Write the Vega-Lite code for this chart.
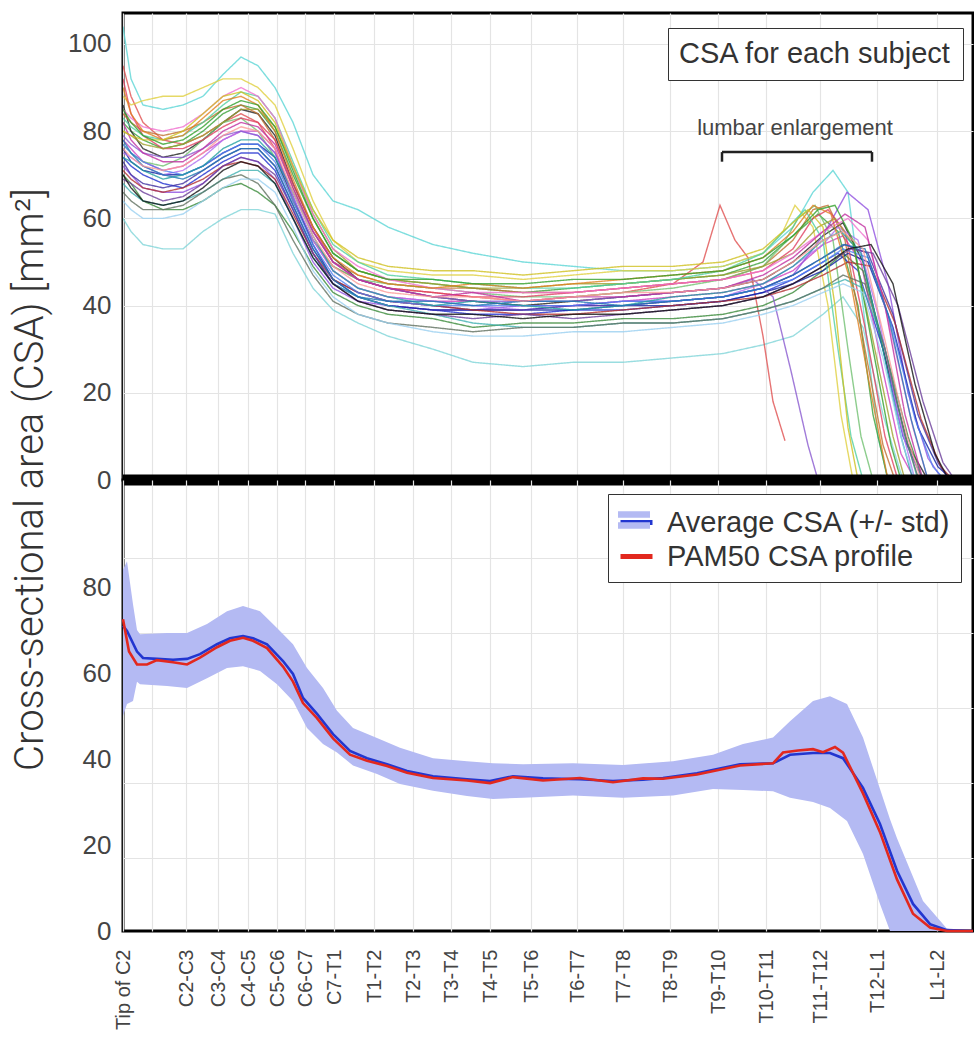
{
"$schema": "https://vega.github.io/schema/vega-lite/v6.json",
"autosize": {"type": "pad"},
"padding": {"left": 8, "top": 11, "right": 1, "bottom": 0},
"background": "white",
"bounds": "flush",
"config": {"font": "Liberation Sans", "view": {"stroke": "black", "strokeWidth": 3}},
"spacing": 0,
"datasets": {
"subjects": [
{"s":1,"x":0,"y":104},{"s":1,"x":8,"y":92},{"s":1,"x":20,"y":86},{"s":1,"x":40,"y":85},{"s":1,"x":60,"y":86},{"s":1,"x":80,"y":88},{"s":1,"x":100,"y":93},{"s":1,"x":118,"y":97},{"s":1,"x":135,"y":95},{"s":1,"x":152,"y":90},{"s":1,"x":170,"y":82},{"s":1,"x":190,"y":70},{"s":1,"x":210,"y":64},{"s":1,"x":235,"y":62},{"s":1,"x":265,"y":58},{"s":1,"x":310,"y":54},{"s":1,"x":350,"y":52},{"s":1,"x":400,"y":50},{"s":1,"x":450,"y":49},{"s":1,"x":500,"y":48},{"s":1,"x":550,"y":48},{"s":1,"x":600,"y":49},{"s":1,"x":640,"y":52},{"s":1,"x":670,"y":58},{"s":1,"x":690,"y":66},{"s":1,"x":710,"y":71},{"s":1,"x":725,"y":66},{"s":1,"x":740,"y":40},{"s":1,"x":755,"y":10},{"s":1,"x":765,"y":0},
{"s":2,"x":0,"y":60},{"s":2,"x":8,"y":57},{"s":2,"x":20,"y":54},{"s":2,"x":40,"y":53},{"s":2,"x":60,"y":53},{"s":2,"x":80,"y":57},{"s":2,"x":100,"y":60},{"s":2,"x":118,"y":62},{"s":2,"x":135,"y":62},{"s":2,"x":152,"y":61},{"s":2,"x":170,"y":52},{"s":2,"x":190,"y":44},{"s":2,"x":210,"y":39},{"s":2,"x":235,"y":36},{"s":2,"x":265,"y":33},{"s":2,"x":310,"y":30},{"s":2,"x":350,"y":27},{"s":2,"x":400,"y":26},{"s":2,"x":450,"y":27},{"s":2,"x":500,"y":27},{"s":2,"x":550,"y":28},{"s":2,"x":600,"y":29},{"s":2,"x":640,"y":31},{"s":2,"x":670,"y":33},{"s":2,"x":700,"y":38},{"s":2,"x":720,"y":42},{"s":2,"x":740,"y":35},{"s":2,"x":760,"y":15},{"s":2,"x":780,"y":0},
{"s":3,"x":0,"y":95},{"s":3,"x":8,"y":88},{"s":3,"x":20,"y":82},{"s":3,"x":40,"y":78},{"s":3,"x":60,"y":77},{"s":3,"x":80,"y":79},{"s":3,"x":100,"y":82},{"s":3,"x":118,"y":84},{"s":3,"x":135,"y":82},{"s":3,"x":152,"y":76},{"s":3,"x":170,"y":64},{"s":3,"x":190,"y":55},{"s":3,"x":210,"y":49},{"s":3,"x":235,"y":46},{"s":3,"x":265,"y":44},{"s":3,"x":310,"y":43},{"s":3,"x":350,"y":42},{"s":3,"x":400,"y":41},{"s":3,"x":450,"y":42},{"s":3,"x":500,"y":43},{"s":3,"x":550,"y":45},{"s":3,"x":580,"y":50},{"s":3,"x":597,"y":63},{"s":3,"x":612,"y":55},{"s":3,"x":625,"y":51},{"s":3,"x":640,"y":33},{"s":3,"x":650,"y":18},{"s":3,"x":662,"y":9},
{"s":4,"x":0,"y":82},{"s":4,"x":8,"y":80},{"s":4,"x":20,"y":78},{"s":4,"x":40,"y":76},{"s":4,"x":60,"y":77},{"s":4,"x":80,"y":80},{"s":4,"x":100,"y":84},{"s":4,"x":118,"y":86},{"s":4,"x":135,"y":85},{"s":4,"x":152,"y":80},{"s":4,"x":170,"y":70},{"s":4,"x":190,"y":60},{"s":4,"x":210,"y":52},{"s":4,"x":235,"y":48},{"s":4,"x":265,"y":46},{"s":4,"x":310,"y":45},{"s":4,"x":350,"y":44},{"s":4,"x":400,"y":43},{"s":4,"x":450,"y":44},{"s":4,"x":500,"y":45},{"s":4,"x":550,"y":46},{"s":4,"x":600,"y":47},{"s":4,"x":640,"y":50},{"s":4,"x":670,"y":56},{"s":4,"x":695,"y":61},{"s":4,"x":715,"y":57},{"s":4,"x":735,"y":40},{"s":4,"x":750,"y":15},{"s":4,"x":765,"y":0},
{"s":5,"x":0,"y":74},{"s":5,"x":8,"y":72},{"s":5,"x":20,"y":70},{"s":5,"x":40,"y":68},{"s":5,"x":60,"y":67},{"s":5,"x":80,"y":70},{"s":5,"x":100,"y":73},{"s":5,"x":118,"y":75},{"s":5,"x":135,"y":75},{"s":5,"x":152,"y":71},{"s":5,"x":170,"y":62},{"s":5,"x":190,"y":52},{"s":5,"x":210,"y":45},{"s":5,"x":235,"y":42},{"s":5,"x":265,"y":40},{"s":5,"x":310,"y":39},{"s":5,"x":350,"y":38},{"s":5,"x":400,"y":38},{"s":5,"x":450,"y":39},{"s":5,"x":500,"y":39},{"s":5,"x":550,"y":40},{"s":5,"x":600,"y":41},{"s":5,"x":640,"y":43},{"s":5,"x":670,"y":46},{"s":5,"x":700,"y":50},{"s":5,"x":715,"y":52},{"s":5,"x":735,"y":48},{"s":5,"x":760,"y":30},{"s":5,"x":780,"y":10},{"s":5,"x":800,"y":0},
{"s":6,"x":0,"y":78},{"s":6,"x":8,"y":76},{"s":6,"x":20,"y":73},{"s":6,"x":40,"y":71},{"s":6,"x":60,"y":72},{"s":6,"x":80,"y":75},{"s":6,"x":100,"y":78},{"s":6,"x":118,"y":80},{"s":6,"x":135,"y":80},{"s":6,"x":152,"y":76},{"s":6,"x":170,"y":64},{"s":6,"x":190,"y":55},{"s":6,"x":210,"y":48},{"s":6,"x":235,"y":44},{"s":6,"x":265,"y":42},{"s":6,"x":310,"y":41},{"s":6,"x":350,"y":41},{"s":6,"x":400,"y":40},{"s":6,"x":450,"y":40},{"s":6,"x":500,"y":41},{"s":6,"x":550,"y":42},{"s":6,"x":600,"y":43},{"s":6,"x":640,"y":45},{"s":6,"x":670,"y":48},{"s":6,"x":700,"y":54},{"s":6,"x":720,"y":56},{"s":6,"x":738,"y":50},{"s":6,"x":760,"y":25},{"s":6,"x":778,"y":6},{"s":6,"x":792,"y":0},
{"s":7,"x":0,"y":88},{"s":7,"x":8,"y":86},{"s":7,"x":20,"y":87},{"s":7,"x":40,"y":88},{"s":7,"x":60,"y":88},{"s":7,"x":80,"y":90},{"s":7,"x":100,"y":92},{"s":7,"x":118,"y":92},{"s":7,"x":135,"y":90},{"s":7,"x":152,"y":86},{"s":7,"x":170,"y":76},{"s":7,"x":190,"y":64},{"s":7,"x":210,"y":55},{"s":7,"x":235,"y":50},{"s":7,"x":265,"y":48},{"s":7,"x":310,"y":47},{"s":7,"x":350,"y":47},{"s":7,"x":400,"y":46},{"s":7,"x":450,"y":47},{"s":7,"x":500,"y":48},{"s":7,"x":550,"y":48},{"s":7,"x":600,"y":49},{"s":7,"x":640,"y":52},{"s":7,"x":660,"y":57},{"s":7,"x":672,"y":63},{"s":7,"x":690,"y":58},{"s":7,"x":705,"y":40},{"s":7,"x":718,"y":15},{"s":7,"x":730,"y":0},
{"s":8,"x":0,"y":86},{"s":8,"x":8,"y":80},{"s":8,"x":20,"y":76},{"s":8,"x":40,"y":74},{"s":8,"x":60,"y":75},{"s":8,"x":80,"y":78},{"s":8,"x":100,"y":82},{"s":8,"x":118,"y":85},{"s":8,"x":135,"y":84},{"s":8,"x":152,"y":79},{"s":8,"x":170,"y":68},{"s":8,"x":190,"y":58},{"s":8,"x":210,"y":51},{"s":8,"x":235,"y":46},{"s":8,"x":265,"y":44},{"s":8,"x":310,"y":42},{"s":8,"x":350,"y":41},{"s":8,"x":400,"y":40},{"s":8,"x":450,"y":41},{"s":8,"x":500,"y":42},{"s":8,"x":550,"y":43},{"s":8,"x":600,"y":44},{"s":8,"x":640,"y":46},{"s":8,"x":670,"y":50},{"s":8,"x":700,"y":56},{"s":8,"x":720,"y":59},{"s":8,"x":740,"y":50},{"s":8,"x":760,"y":30},{"s":8,"x":785,"y":8},{"s":8,"x":805,"y":0},
{"s":9,"x":0,"y":72},{"s":9,"x":8,"y":70},{"s":9,"x":20,"y":67},{"s":9,"x":40,"y":66},{"s":9,"x":60,"y":66},{"s":9,"x":80,"y":68},{"s":9,"x":100,"y":72},{"s":9,"x":118,"y":74},{"s":9,"x":135,"y":73},{"s":9,"x":152,"y":69},{"s":9,"x":170,"y":60},{"s":9,"x":190,"y":50},{"s":9,"x":210,"y":44},{"s":9,"x":235,"y":41},{"s":9,"x":265,"y":40},{"s":9,"x":310,"y":39},{"s":9,"x":350,"y":39},{"s":9,"x":400,"y":40},{"s":9,"x":450,"y":40},{"s":9,"x":500,"y":41},{"s":9,"x":550,"y":41},{"s":9,"x":600,"y":42},{"s":9,"x":640,"y":44},{"s":9,"x":670,"y":47},{"s":9,"x":700,"y":56},{"s":9,"x":724,"y":66},{"s":9,"x":745,"y":62},{"s":9,"x":765,"y":45},{"s":9,"x":785,"y":20},{"s":9,"x":805,"y":5},{"s":9,"x":820,"y":0},
{"s":10,"x":0,"y":70},{"s":10,"x":8,"y":68},{"s":10,"x":20,"y":64},{"s":10,"x":40,"y":62},{"s":10,"x":60,"y":62},{"s":10,"x":80,"y":64},{"s":10,"x":100,"y":67},{"s":10,"x":118,"y":68},{"s":10,"x":135,"y":66},{"s":10,"x":152,"y":63},{"s":10,"x":170,"y":57},{"s":10,"x":190,"y":49},{"s":10,"x":210,"y":43},{"s":10,"x":235,"y":40},{"s":10,"x":265,"y":38},{"s":10,"x":310,"y":37},{"s":10,"x":350,"y":35},{"s":10,"x":400,"y":36},{"s":10,"x":450,"y":36},{"s":10,"x":500,"y":37},{"s":10,"x":550,"y":37},{"s":10,"x":600,"y":38},{"s":10,"x":640,"y":40},{"s":10,"x":670,"y":43},{"s":10,"x":700,"y":48},{"s":10,"x":720,"y":52},{"s":10,"x":740,"y":48},{"s":10,"x":762,"y":30},{"s":10,"x":785,"y":10},{"s":10,"x":800,"y":0},
{"s":11,"x":0,"y":84},{"s":11,"x":8,"y":82},{"s":11,"x":20,"y":80},{"s":11,"x":40,"y":79},{"s":11,"x":60,"y":80},{"s":11,"x":80,"y":82},{"s":11,"x":100,"y":85},{"s":11,"x":118,"y":86},{"s":11,"x":135,"y":84},{"s":11,"x":152,"y":78},{"s":11,"x":170,"y":67},{"s":11,"x":190,"y":57},{"s":11,"x":210,"y":50},{"s":11,"x":235,"y":47},{"s":11,"x":265,"y":45},{"s":11,"x":310,"y":44},{"s":11,"x":350,"y":44},{"s":11,"x":400,"y":43},{"s":11,"x":450,"y":43},{"s":11,"x":500,"y":44},{"s":11,"x":550,"y":45},{"s":11,"x":600,"y":46},{"s":11,"x":640,"y":49},{"s":11,"x":670,"y":55},{"s":11,"x":690,"y":62},{"s":11,"x":705,"y":63},{"s":11,"x":722,"y":55},{"s":11,"x":742,"y":30},{"s":11,"x":760,"y":8},{"s":11,"x":772,"y":0},
{"s":12,"x":0,"y":77},{"s":12,"x":8,"y":75},{"s":12,"x":20,"y":73},{"s":12,"x":40,"y":72},{"s":12,"x":60,"y":74},{"s":12,"x":80,"y":78},{"s":12,"x":100,"y":82},{"s":12,"x":118,"y":83},{"s":12,"x":135,"y":80},{"s":12,"x":152,"y":74},{"s":12,"x":170,"y":64},{"s":12,"x":190,"y":55},{"s":12,"x":210,"y":49},{"s":12,"x":235,"y":46},{"s":12,"x":265,"y":45},{"s":12,"x":310,"y":44},{"s":12,"x":350,"y":43},{"s":12,"x":400,"y":42},{"s":12,"x":450,"y":42},{"s":12,"x":500,"y":43},{"s":12,"x":550,"y":44},{"s":12,"x":600,"y":46},{"s":12,"x":640,"y":49},{"s":12,"x":660,"y":54},{"s":12,"x":675,"y":60},{"s":12,"x":692,"y":63},{"s":12,"x":710,"y":55},{"s":12,"x":725,"y":30},{"s":12,"x":738,"y":10},{"s":12,"x":750,"y":0},
{"s":13,"x":0,"y":76},{"s":13,"x":8,"y":73},{"s":13,"x":20,"y":71},{"s":13,"x":40,"y":70},{"s":13,"x":60,"y":70},{"s":13,"x":80,"y":72},{"s":13,"x":100,"y":75},{"s":13,"x":118,"y":77},{"s":13,"x":135,"y":77},{"s":13,"x":152,"y":74},{"s":13,"x":170,"y":65},{"s":13,"x":190,"y":54},{"s":13,"x":210,"y":46},{"s":13,"x":235,"y":42},{"s":13,"x":265,"y":40},{"s":13,"x":310,"y":39},{"s":13,"x":350,"y":39},{"s":13,"x":400,"y":39},{"s":13,"x":450,"y":39},{"s":13,"x":500,"y":40},{"s":13,"x":550,"y":40},{"s":13,"x":600,"y":41},{"s":13,"x":640,"y":43},{"s":13,"x":670,"y":45},{"s":13,"x":700,"y":48},{"s":13,"x":725,"y":52},{"s":13,"x":745,"y":50},{"s":13,"x":770,"y":35},{"s":13,"x":795,"y":12},{"s":13,"x":815,"y":3},{"s":13,"x":830,"y":0},
{"s":14,"x":0,"y":92},{"s":14,"x":8,"y":84},{"s":14,"x":20,"y":79},{"s":14,"x":40,"y":76},{"s":14,"x":60,"y":76},{"s":14,"x":80,"y":78},{"s":14,"x":100,"y":81},{"s":14,"x":118,"y":83},{"s":14,"x":135,"y":82},{"s":14,"x":152,"y":78},{"s":14,"x":170,"y":68},{"s":14,"x":190,"y":58},{"s":14,"x":210,"y":50},{"s":14,"x":235,"y":46},{"s":14,"x":265,"y":44},{"s":14,"x":310,"y":43},{"s":14,"x":350,"y":42},{"s":14,"x":400,"y":42},{"s":14,"x":450,"y":43},{"s":14,"x":500,"y":44},{"s":14,"x":550,"y":45},{"s":14,"x":600,"y":46},{"s":14,"x":640,"y":48},{"s":14,"x":670,"y":53},{"s":14,"x":690,"y":60},{"s":14,"x":705,"y":62},{"s":14,"x":722,"y":57},{"s":14,"x":742,"y":35},{"s":14,"x":762,"y":10},{"s":14,"x":775,"y":0},
{"s":15,"x":0,"y":68},{"s":15,"x":8,"y":66},{"s":15,"x":20,"y":64},{"s":15,"x":40,"y":63},{"s":15,"x":60,"y":64},{"s":15,"x":80,"y":66},{"s":15,"x":100,"y":69},{"s":15,"x":118,"y":71},{"s":15,"x":135,"y":71},{"s":15,"x":152,"y":68},{"s":15,"x":170,"y":60},{"s":15,"x":190,"y":51},{"s":15,"x":210,"y":45},{"s":15,"x":235,"y":42},{"s":15,"x":265,"y":40},{"s":15,"x":310,"y":38},{"s":15,"x":350,"y":36},{"s":15,"x":400,"y":35},{"s":15,"x":450,"y":35},{"s":15,"x":500,"y":36},{"s":15,"x":550,"y":36},{"s":15,"x":600,"y":37},{"s":15,"x":640,"y":39},{"s":15,"x":670,"y":41},{"s":15,"x":700,"y":44},{"s":15,"x":722,"y":46},{"s":15,"x":740,"y":44},{"s":15,"x":760,"y":32},{"s":15,"x":780,"y":12},{"s":15,"x":795,"y":0},
{"s":16,"x":0,"y":75},{"s":16,"x":8,"y":74},{"s":16,"x":20,"y":72},{"s":16,"x":40,"y":70},{"s":16,"x":60,"y":71},{"s":16,"x":80,"y":74},{"s":16,"x":100,"y":78},{"s":16,"x":118,"y":80},{"s":16,"x":135,"y":79},{"s":16,"x":152,"y":75},{"s":16,"x":170,"y":65},{"s":16,"x":190,"y":55},{"s":16,"x":210,"y":48},{"s":16,"x":235,"y":44},{"s":16,"x":265,"y":42},{"s":16,"x":310,"y":41},{"s":16,"x":350,"y":40},{"s":16,"x":400,"y":39},{"s":16,"x":450,"y":40},{"s":16,"x":500,"y":40},{"s":16,"x":550,"y":41},{"s":16,"x":600,"y":42},{"s":16,"x":640,"y":45},{"s":16,"x":670,"y":49},{"s":16,"x":700,"y":54},{"s":16,"x":715,"y":58},{"s":16,"x":735,"y":55},{"s":16,"x":755,"y":38},{"s":16,"x":775,"y":15},{"s":16,"x":792,"y":0},
{"s":17,"x":0,"y":80},{"s":17,"x":8,"y":79},{"s":17,"x":20,"y":77},{"s":17,"x":40,"y":76},{"s":17,"x":60,"y":77},{"s":17,"x":80,"y":79},{"s":17,"x":100,"y":82},{"s":17,"x":118,"y":85},{"s":17,"x":135,"y":85},{"s":17,"x":152,"y":81},{"s":17,"x":170,"y":72},{"s":17,"x":190,"y":61},{"s":17,"x":210,"y":53},{"s":17,"x":235,"y":48},{"s":17,"x":265,"y":46},{"s":17,"x":310,"y":45},{"s":17,"x":350,"y":44},{"s":17,"x":400,"y":44},{"s":17,"x":450,"y":45},{"s":17,"x":500,"y":45},{"s":17,"x":550,"y":46},{"s":17,"x":600,"y":47},{"s":17,"x":640,"y":49},{"s":17,"x":670,"y":52},{"s":17,"x":695,"y":58},{"s":17,"x":712,"y":60},{"s":17,"x":730,"y":54},{"s":17,"x":750,"y":32},{"s":17,"x":770,"y":10},{"s":17,"x":782,"y":0},
{"s":18,"x":0,"y":73},{"s":18,"x":8,"y":70},{"s":18,"x":20,"y":68},{"s":18,"x":40,"y":67},{"s":18,"x":60,"y":68},{"s":18,"x":80,"y":71},{"s":18,"x":100,"y":74},{"s":18,"x":118,"y":76},{"s":18,"x":135,"y":76},{"s":18,"x":152,"y":72},{"s":18,"x":170,"y":63},{"s":18,"x":190,"y":53},{"s":18,"x":210,"y":46},{"s":18,"x":235,"y":43},{"s":18,"x":265,"y":41},{"s":18,"x":310,"y":40},{"s":18,"x":350,"y":39},{"s":18,"x":400,"y":39},{"s":18,"x":450,"y":40},{"s":18,"x":500,"y":40},{"s":18,"x":550,"y":41},{"s":18,"x":600,"y":42},{"s":18,"x":640,"y":44},{"s":18,"x":670,"y":47},{"s":18,"x":700,"y":51},{"s":18,"x":722,"y":54},{"s":18,"x":745,"y":52},{"s":18,"x":770,"y":38},{"s":18,"x":795,"y":15},{"s":18,"x":815,"y":4},{"s":18,"x":826,"y":0},
{"s":19,"x":0,"y":79},{"s":19,"x":8,"y":77},{"s":19,"x":20,"y":75},{"s":19,"x":40,"y":74},{"s":19,"x":60,"y":74},{"s":19,"x":80,"y":76},{"s":19,"x":100,"y":79},{"s":19,"x":118,"y":80},{"s":19,"x":135,"y":79},{"s":19,"x":152,"y":75},{"s":19,"x":170,"y":66},{"s":19,"x":190,"y":57},{"s":19,"x":210,"y":50},{"s":19,"x":235,"y":46},{"s":19,"x":265,"y":44},{"s":19,"x":310,"y":42},{"s":19,"x":350,"y":41},{"s":19,"x":400,"y":41},{"s":19,"x":450,"y":41},{"s":19,"x":500,"y":42},{"s":19,"x":550,"y":43},{"s":19,"x":600,"y":44},{"s":19,"x":630,"y":46},{"s":19,"x":650,"y":42},{"s":19,"x":668,"y":25},{"s":19,"x":685,"y":8},{"s":19,"x":695,"y":0},
{"s":20,"x":0,"y":83},{"s":20,"x":8,"y":81},{"s":20,"x":20,"y":79},{"s":20,"x":40,"y":78},{"s":20,"x":60,"y":79},{"s":20,"x":80,"y":82},{"s":20,"x":100,"y":86},{"s":20,"x":118,"y":89},{"s":20,"x":135,"y":88},{"s":20,"x":152,"y":83},{"s":20,"x":170,"y":73},{"s":20,"x":190,"y":62},{"s":20,"x":210,"y":54},{"s":20,"x":235,"y":50},{"s":20,"x":265,"y":47},{"s":20,"x":310,"y":46},{"s":20,"x":350,"y":45},{"s":20,"x":400,"y":44},{"s":20,"x":450,"y":44},{"s":20,"x":500,"y":45},{"s":20,"x":550,"y":46},{"s":20,"x":600,"y":48},{"s":20,"x":640,"y":52},{"s":20,"x":665,"y":58},{"s":20,"x":682,"y":62},{"s":20,"x":700,"y":55},{"s":20,"x":715,"y":30},{"s":20,"x":728,"y":10},{"s":20,"x":740,"y":0},
{"s":21,"x":0,"y":71},{"s":21,"x":8,"y":69},{"s":21,"x":20,"y":67},{"s":21,"x":40,"y":66},{"s":21,"x":60,"y":67},{"s":21,"x":80,"y":69},{"s":21,"x":100,"y":72},{"s":21,"x":118,"y":73},{"s":21,"x":135,"y":72},{"s":21,"x":152,"y":69},{"s":21,"x":170,"y":61},{"s":21,"x":190,"y":52},{"s":21,"x":210,"y":46},{"s":21,"x":235,"y":43},{"s":21,"x":265,"y":41},{"s":21,"x":310,"y":40},{"s":21,"x":350,"y":39},{"s":21,"x":400,"y":38},{"s":21,"x":450,"y":38},{"s":21,"x":500,"y":39},{"s":21,"x":550,"y":40},{"s":21,"x":600,"y":41},{"s":21,"x":640,"y":42},{"s":21,"x":670,"y":44},{"s":21,"x":700,"y":47},{"s":21,"x":725,"y":50},{"s":21,"x":748,"y":49},{"s":21,"x":772,"y":36},{"s":21,"x":798,"y":14},{"s":21,"x":818,"y":3},{"s":21,"x":830,"y":0},
{"s":22,"x":0,"y":66},{"s":22,"x":8,"y":64},{"s":22,"x":20,"y":62},{"s":22,"x":40,"y":62},{"s":22,"x":60,"y":63},{"s":22,"x":80,"y":66},{"s":22,"x":100,"y":69},{"s":22,"x":118,"y":70},{"s":22,"x":135,"y":68},{"s":22,"x":152,"y":63},{"s":22,"x":170,"y":55},{"s":22,"x":190,"y":47},{"s":22,"x":210,"y":41},{"s":22,"x":235,"y":38},{"s":22,"x":265,"y":36},{"s":22,"x":310,"y":35},{"s":22,"x":350,"y":34},{"s":22,"x":400,"y":35},{"s":22,"x":450,"y":35},{"s":22,"x":500,"y":36},{"s":22,"x":550,"y":36},{"s":22,"x":600,"y":37},{"s":22,"x":640,"y":39},{"s":22,"x":670,"y":41},{"s":22,"x":700,"y":44},{"s":22,"x":720,"y":47},{"s":22,"x":742,"y":45},{"s":22,"x":762,"y":30},{"s":22,"x":782,"y":10},{"s":22,"x":796,"y":0},
{"s":23,"x":0,"y":85},{"s":23,"x":8,"y":83},{"s":23,"x":20,"y":81},{"s":23,"x":40,"y":80},{"s":23,"x":60,"y":81},{"s":23,"x":80,"y":84},{"s":23,"x":100,"y":88},{"s":23,"x":118,"y":90},{"s":23,"x":135,"y":88},{"s":23,"x":152,"y":83},{"s":23,"x":170,"y":72},{"s":23,"x":190,"y":61},{"s":23,"x":210,"y":53},{"s":23,"x":235,"y":49},{"s":23,"x":265,"y":46},{"s":23,"x":310,"y":44},{"s":23,"x":350,"y":43},{"s":23,"x":400,"y":43},{"s":23,"x":450,"y":43},{"s":23,"x":500,"y":44},{"s":23,"x":550,"y":45},{"s":23,"x":600,"y":46},{"s":23,"x":640,"y":48},{"s":23,"x":670,"y":52},{"s":23,"x":700,"y":57},{"s":23,"x":725,"y":60},{"s":23,"x":745,"y":55},{"s":23,"x":767,"y":35},{"s":23,"x":790,"y":12},{"s":23,"x":805,"y":0},
{"s":24,"x":0,"y":77},{"s":24,"x":8,"y":75},{"s":24,"x":20,"y":73},{"s":24,"x":40,"y":71},{"s":24,"x":60,"y":70},{"s":24,"x":80,"y":72},{"s":24,"x":100,"y":75},{"s":24,"x":118,"y":77},{"s":24,"x":135,"y":77},{"s":24,"x":152,"y":73},{"s":24,"x":170,"y":64},{"s":24,"x":190,"y":54},{"s":24,"x":210,"y":47},{"s":24,"x":235,"y":43},{"s":24,"x":265,"y":41},{"s":24,"x":310,"y":40},{"s":24,"x":350,"y":40},{"s":24,"x":400,"y":40},{"s":24,"x":450,"y":40},{"s":24,"x":500,"y":41},{"s":24,"x":550,"y":41},{"s":24,"x":600,"y":42},{"s":24,"x":640,"y":44},{"s":24,"x":670,"y":46},{"s":24,"x":700,"y":50},{"s":24,"x":720,"y":53},{"s":24,"x":745,"y":51},{"s":24,"x":768,"y":36},{"s":24,"x":792,"y":14},{"s":24,"x":810,"y":3},{"s":24,"x":822,"y":0},
{"s":25,"x":0,"y":90},{"s":25,"x":8,"y":84},{"s":25,"x":20,"y":80},{"s":25,"x":40,"y":78},{"s":25,"x":60,"y":79},{"s":25,"x":80,"y":83},{"s":25,"x":100,"y":87},{"s":25,"x":118,"y":88},{"s":25,"x":135,"y":86},{"s":25,"x":152,"y":80},{"s":25,"x":170,"y":69},{"s":25,"x":190,"y":58},{"s":25,"x":210,"y":51},{"s":25,"x":235,"y":47},{"s":25,"x":265,"y":45},{"s":25,"x":310,"y":44},{"s":25,"x":350,"y":45},{"s":25,"x":400,"y":44},{"s":25,"x":450,"y":45},{"s":25,"x":500,"y":46},{"s":25,"x":550,"y":47},{"s":25,"x":600,"y":48},{"s":25,"x":640,"y":51},{"s":25,"x":670,"y":57},{"s":25,"x":690,"y":63},{"s":25,"x":708,"y":61},{"s":25,"x":728,"y":45},{"s":25,"x":748,"y":20},{"s":25,"x":765,"y":0},
{"s":26,"x":0,"y":74},{"s":26,"x":8,"y":73},{"s":26,"x":20,"y":71},{"s":26,"x":40,"y":69},{"s":26,"x":60,"y":70},{"s":26,"x":80,"y":72},{"s":26,"x":100,"y":76},{"s":26,"x":118,"y":78},{"s":26,"x":135,"y":78},{"s":26,"x":152,"y":74},{"s":26,"x":170,"y":66},{"s":26,"x":190,"y":56},{"s":26,"x":210,"y":48},{"s":26,"x":235,"y":44},{"s":26,"x":265,"y":42},{"s":26,"x":310,"y":40},{"s":26,"x":350,"y":41},{"s":26,"x":400,"y":40},{"s":26,"x":450,"y":39},{"s":26,"x":500,"y":40},{"s":26,"x":550,"y":42},{"s":26,"x":600,"y":43},{"s":26,"x":640,"y":45},{"s":26,"x":670,"y":49},{"s":26,"x":700,"y":55},{"s":26,"x":718,"y":57},{"s":26,"x":738,"y":52},{"s":26,"x":758,"y":32},{"s":26,"x":778,"y":10},{"s":26,"x":790,"y":0},
{"s":27,"x":0,"y":82},{"s":27,"x":8,"y":78},{"s":27,"x":20,"y":75},{"s":27,"x":40,"y":73},{"s":27,"x":60,"y":73},{"s":27,"x":80,"y":76},{"s":27,"x":100,"y":80},{"s":27,"x":118,"y":82},{"s":27,"x":135,"y":81},{"s":27,"x":152,"y":77},{"s":27,"x":170,"y":67},{"s":27,"x":190,"y":57},{"s":27,"x":210,"y":50},{"s":27,"x":235,"y":46},{"s":27,"x":265,"y":44},{"s":27,"x":310,"y":42},{"s":27,"x":350,"y":43},{"s":27,"x":400,"y":41},{"s":27,"x":450,"y":42},{"s":27,"x":500,"y":42},{"s":27,"x":550,"y":43},{"s":27,"x":600,"y":44},{"s":27,"x":640,"y":47},{"s":27,"x":670,"y":51},{"s":27,"x":700,"y":57},{"s":27,"x":722,"y":61},{"s":27,"x":742,"y":58},{"s":27,"x":762,"y":40},{"s":27,"x":782,"y":15},{"s":27,"x":800,"y":0},
{"s":28,"x":0,"y":69},{"s":28,"x":8,"y":68},{"s":28,"x":20,"y":66},{"s":28,"x":40,"y":64},{"s":28,"x":60,"y":65},{"s":28,"x":80,"y":68},{"s":28,"x":100,"y":72},{"s":28,"x":118,"y":74},{"s":28,"x":135,"y":73},{"s":28,"x":152,"y":70},{"s":28,"x":170,"y":62},{"s":28,"x":190,"y":52},{"s":28,"x":210,"y":45},{"s":28,"x":235,"y":41},{"s":28,"x":265,"y":39},{"s":28,"x":310,"y":38},{"s":28,"x":350,"y":37},{"s":28,"x":400,"y":38},{"s":28,"x":450,"y":37},{"s":28,"x":500,"y":38},{"s":28,"x":550,"y":39},{"s":28,"x":600,"y":40},{"s":28,"x":640,"y":42},{"s":28,"x":670,"y":45},{"s":28,"x":700,"y":49},{"s":28,"x":728,"y":53},{"s":28,"x":750,"y":52},{"s":28,"x":775,"y":40},{"s":28,"x":800,"y":18},{"s":28,"x":820,"y":4},{"s":28,"x":832,"y":0},
{"s":29,"x":0,"y":80},{"s":29,"x":8,"y":79},{"s":29,"x":20,"y":78},{"s":29,"x":40,"y":78},{"s":29,"x":60,"y":80},{"s":29,"x":80,"y":84},{"s":29,"x":100,"y":88},{"s":29,"x":118,"y":89},{"s":29,"x":135,"y":87},{"s":29,"x":152,"y":82},{"s":29,"x":170,"y":72},{"s":29,"x":190,"y":62},{"s":29,"x":210,"y":55},{"s":29,"x":235,"y":51},{"s":29,"x":265,"y":49},{"s":29,"x":310,"y":48},{"s":29,"x":350,"y":48},{"s":29,"x":400,"y":47},{"s":29,"x":450,"y":48},{"s":29,"x":500,"y":49},{"s":29,"x":550,"y":49},{"s":29,"x":600,"y":50},{"s":29,"x":640,"y":53},{"s":29,"x":665,"y":58},{"s":29,"x":685,"y":62},{"s":29,"x":700,"y":58},{"s":29,"x":712,"y":40},{"s":29,"x":725,"y":12},{"s":29,"x":735,"y":0},
{"s":30,"x":0,"y":78},{"s":30,"x":8,"y":75},{"s":30,"x":20,"y":72},{"s":30,"x":40,"y":70},{"s":30,"x":60,"y":69},{"s":30,"x":80,"y":71},{"s":30,"x":100,"y":74},{"s":30,"x":118,"y":76},{"s":30,"x":135,"y":76},{"s":30,"x":152,"y":72},{"s":30,"x":170,"y":63},{"s":30,"x":190,"y":53},{"s":30,"x":210,"y":46},{"s":30,"x":235,"y":42},{"s":30,"x":265,"y":41},{"s":30,"x":310,"y":41},{"s":30,"x":350,"y":40},{"s":30,"x":400,"y":41},{"s":30,"x":450,"y":41},{"s":30,"x":500,"y":40},{"s":30,"x":550,"y":41},{"s":30,"x":600,"y":42},{"s":30,"x":640,"y":44},{"s":30,"x":670,"y":47},{"s":30,"x":700,"y":51},{"s":30,"x":720,"y":54},{"s":30,"x":742,"y":53},{"s":30,"x":765,"y":38},{"s":30,"x":788,"y":14},{"s":30,"x":805,"y":0},
{"s":31,"x":0,"y":85},{"s":31,"x":8,"y":82},{"s":31,"x":20,"y":79},{"s":31,"x":40,"y":77},{"s":31,"x":60,"y":78},{"s":31,"x":80,"y":81},{"s":31,"x":100,"y":85},{"s":31,"x":118,"y":87},{"s":31,"x":135,"y":86},{"s":31,"x":152,"y":81},{"s":31,"x":170,"y":71},{"s":31,"x":190,"y":60},{"s":31,"x":210,"y":52},{"s":31,"x":235,"y":48},{"s":31,"x":265,"y":46},{"s":31,"x":310,"y":46},{"s":31,"x":350,"y":45},{"s":31,"x":400,"y":45},{"s":31,"x":450,"y":46},{"s":31,"x":500,"y":46},{"s":31,"x":550,"y":47},{"s":31,"x":600,"y":48},{"s":31,"x":640,"y":51},{"s":31,"x":670,"y":56},{"s":31,"x":695,"y":62},{"s":31,"x":712,"y":63},{"s":31,"x":730,"y":55},{"s":31,"x":750,"y":30},{"s":31,"x":768,"y":8},{"s":31,"x":778,"y":0},
{"s":32,"x":0,"y":76},{"s":32,"x":8,"y":74},{"s":32,"x":20,"y":72},{"s":32,"x":40,"y":71},{"s":32,"x":60,"y":72},{"s":32,"x":80,"y":75},{"s":32,"x":100,"y":79},{"s":32,"x":118,"y":81},{"s":32,"x":135,"y":80},{"s":32,"x":152,"y":76},{"s":32,"x":170,"y":66},{"s":32,"x":190,"y":56},{"s":32,"x":210,"y":49},{"s":32,"x":235,"y":45},{"s":32,"x":265,"y":43},{"s":32,"x":310,"y":42},{"s":32,"x":350,"y":42},{"s":32,"x":400,"y":41},{"s":32,"x":450,"y":42},{"s":32,"x":500,"y":43},{"s":32,"x":550,"y":43},{"s":32,"x":600,"y":44},{"s":32,"x":640,"y":46},{"s":32,"x":670,"y":50},{"s":32,"x":700,"y":55},{"s":32,"x":720,"y":57},{"s":32,"x":740,"y":53},{"s":32,"x":762,"y":32},{"s":32,"x":784,"y":10},{"s":32,"x":798,"y":0},
{"s":33,"x":0,"y":70},{"s":33,"x":8,"y":67},{"s":33,"x":20,"y":64},{"s":33,"x":40,"y":63},{"s":33,"x":60,"y":64},{"s":33,"x":80,"y":67},{"s":33,"x":100,"y":71},{"s":33,"x":118,"y":73},{"s":33,"x":135,"y":72},{"s":33,"x":152,"y":68},{"s":33,"x":170,"y":60},{"s":33,"x":190,"y":51},{"s":33,"x":210,"y":45},{"s":33,"x":235,"y":41},{"s":33,"x":265,"y":39},{"s":33,"x":310,"y":38},{"s":33,"x":350,"y":38},{"s":33,"x":400,"y":37},{"s":33,"x":450,"y":38},{"s":33,"x":500,"y":38},{"s":33,"x":550,"y":39},{"s":33,"x":600,"y":40},{"s":33,"x":640,"y":42},{"s":33,"x":670,"y":45},{"s":33,"x":700,"y":49},{"s":33,"x":725,"y":53},{"s":33,"x":748,"y":54},{"s":33,"x":770,"y":45},{"s":33,"x":792,"y":22},{"s":33,"x":812,"y":6},{"s":33,"x":826,"y":0},
{"s":34,"x":0,"y":64},{"s":34,"x":8,"y":62},{"s":34,"x":20,"y":60},{"s":34,"x":40,"y":60},{"s":34,"x":60,"y":61},{"s":34,"x":80,"y":64},{"s":34,"x":100,"y":67},{"s":34,"x":118,"y":69},{"s":34,"x":135,"y":69},{"s":34,"x":152,"y":66},{"s":34,"x":170,"y":58},{"s":34,"x":190,"y":48},{"s":34,"x":210,"y":42},{"s":34,"x":235,"y":38},{"s":34,"x":265,"y":36},{"s":34,"x":310,"y":34},{"s":34,"x":350,"y":33},{"s":34,"x":400,"y":33},{"s":34,"x":450,"y":34},{"s":34,"x":500,"y":34},{"s":34,"x":550,"y":35},{"s":34,"x":600,"y":36},{"s":34,"x":640,"y":38},{"s":34,"x":670,"y":40},{"s":34,"x":700,"y":43},{"s":34,"x":720,"y":45},{"s":34,"x":740,"y":43},{"s":34,"x":760,"y":28},{"s":34,"x":780,"y":8},{"s":34,"x":792,"y":0}
],
"avg": [
{"series":"Average CSA (+/- std)","x":0,"y":71},{"series":"Average CSA (+/- std)","x":4,"y":69.8},{"series":"Average CSA (+/- std)","x":14,"y":65},{"series":"Average CSA (+/- std)","x":20,"y":63.5},{"series":"Average CSA (+/- std)","x":34,"y":63.3},{"series":"Average CSA (+/- std)","x":50,"y":63.1},{"series":"Average CSA (+/- std)","x":64,"y":63.3},{"series":"Average CSA (+/- std)","x":77,"y":64.4},{"series":"Average CSA (+/- std)","x":94,"y":66.7},{"series":"Average CSA (+/- std)","x":107,"y":68.1},{"series":"Average CSA (+/- std)","x":120,"y":68.6},{"series":"Average CSA (+/- std)","x":130,"y":68.1},{"series":"Average CSA (+/- std)","x":144,"y":66.7},{"series":"Average CSA (+/- std)","x":160,"y":62.8},{"series":"Average CSA (+/- std)","x":170,"y":59.8},{"series":"Average CSA (+/- std)","x":180,"y":54.2},{"series":"Average CSA (+/- std)","x":194,"y":50.5},{"series":"Average CSA (+/- std)","x":210,"y":45.8},{"series":"Average CSA (+/- std)","x":227,"y":41.9},{"series":"Average CSA (+/- std)","x":244,"y":40.2},{"series":"Average CSA (+/- std)","x":264,"y":38.8},{"series":"Average CSA (+/- std)","x":284,"y":37.2},{"series":"Average CSA (+/- std)","x":310,"y":36},{"series":"Average CSA (+/- std)","x":344,"y":35.3},{"series":"Average CSA (+/- std)","x":367,"y":34.9},{"series":"Average CSA (+/- std)","x":390,"y":36},{"series":"Average CSA (+/- std)","x":420,"y":35.5},{"series":"Average CSA (+/- std)","x":457,"y":35.3},{"series":"Average CSA (+/- std)","x":490,"y":34.9},{"series":"Average CSA (+/- std)","x":520,"y":35.2},{"series":"Average CSA (+/- std)","x":540,"y":35.6},{"series":"Average CSA (+/- std)","x":574,"y":36.7},{"series":"Average CSA (+/- std)","x":617,"y":38.8},{"series":"Average CSA (+/- std)","x":650,"y":39},{"series":"Average CSA (+/- std)","x":667,"y":41},{"series":"Average CSA (+/- std)","x":690,"y":41.4},{"series":"Average CSA (+/- std)","x":707,"y":41.4},{"series":"Average CSA (+/- std)","x":720,"y":40.2},{"series":"Average CSA (+/- std)","x":740,"y":33.3},{"series":"Average CSA (+/- std)","x":757,"y":24.9},{"series":"Average CSA (+/- std)","x":774,"y":14},{"series":"Average CSA (+/- std)","x":790,"y":6.3},{"series":"Average CSA (+/- std)","x":807,"y":1.6},{"series":"Average CSA (+/- std)","x":824,"y":0.2},{"series":"Average CSA (+/- std)","x":850,"y":0},
{"series":"PAM50 CSA profile","x":0,"y":72.5},{"series":"PAM50 CSA profile","x":6,"y":65},{"series":"PAM50 CSA profile","x":14,"y":62},{"series":"PAM50 CSA profile","x":24,"y":62},{"series":"PAM50 CSA profile","x":34,"y":63},{"series":"PAM50 CSA profile","x":50,"y":62.5},{"series":"PAM50 CSA profile","x":64,"y":62},{"series":"PAM50 CSA profile","x":77,"y":63.6},{"series":"PAM50 CSA profile","x":94,"y":66},{"series":"PAM50 CSA profile","x":107,"y":67.5},{"series":"PAM50 CSA profile","x":120,"y":68.2},{"series":"PAM50 CSA profile","x":130,"y":67.5},{"series":"PAM50 CSA profile","x":144,"y":65.8},{"series":"PAM50 CSA profile","x":160,"y":61.5},{"series":"PAM50 CSA profile","x":170,"y":58},{"series":"PAM50 CSA profile","x":180,"y":53},{"series":"PAM50 CSA profile","x":194,"y":49.5},{"series":"PAM50 CSA profile","x":210,"y":44.8},{"series":"PAM50 CSA profile","x":227,"y":41},{"series":"PAM50 CSA profile","x":244,"y":39.6},{"series":"PAM50 CSA profile","x":264,"y":38.4},{"series":"PAM50 CSA profile","x":284,"y":36.8},{"series":"PAM50 CSA profile","x":310,"y":35.6},{"series":"PAM50 CSA profile","x":344,"y":35},{"series":"PAM50 CSA profile","x":367,"y":34.4},{"series":"PAM50 CSA profile","x":390,"y":35.8},{"series":"PAM50 CSA profile","x":420,"y":35},{"series":"PAM50 CSA profile","x":457,"y":35.6},{"series":"PAM50 CSA profile","x":490,"y":34.6},{"series":"PAM50 CSA profile","x":520,"y":35.5},{"series":"PAM50 CSA profile","x":540,"y":35.4},{"series":"PAM50 CSA profile","x":574,"y":36.4},{"series":"PAM50 CSA profile","x":617,"y":38.5},{"series":"PAM50 CSA profile","x":650,"y":39},{"series":"PAM50 CSA profile","x":660,"y":41.5},{"series":"PAM50 CSA profile","x":675,"y":42},{"series":"PAM50 CSA profile","x":690,"y":42.3},{"series":"PAM50 CSA profile","x":700,"y":41.6},{"series":"PAM50 CSA profile","x":712,"y":42.8},{"series":"PAM50 CSA profile","x":720,"y":41.5},{"series":"PAM50 CSA profile","x":740,"y":32},{"series":"PAM50 CSA profile","x":757,"y":23},{"series":"PAM50 CSA profile","x":774,"y":12},{"series":"PAM50 CSA profile","x":790,"y":4},{"series":"PAM50 CSA profile","x":807,"y":0.8},{"series":"PAM50 CSA profile","x":824,"y":0},{"series":"PAM50 CSA profile","x":850,"y":0}
],
"band": [
{"x":0,"lo":50,"hi":84},{"x":4,"lo":52.8,"hi":86},{"x":10,"lo":53.5,"hi":76},{"x":14,"lo":58,"hi":70},{"x":17,"lo":57.4,"hi":69},{"x":44,"lo":57,"hi":69.3},{"x":64,"lo":56.5,"hi":69.3},{"x":84,"lo":58.8,"hi":71.4},{"x":104,"lo":61.2,"hi":74.4},{"x":120,"lo":61.6,"hi":75.6},{"x":137,"lo":60.5,"hi":74.4},{"x":154,"lo":57.4,"hi":70.5},{"x":170,"lo":53.5,"hi":66.7},{"x":184,"lo":47.2,"hi":61.2},{"x":200,"lo":43.5,"hi":56.5},{"x":214,"lo":41.5,"hi":51.2},{"x":230,"lo":38.5,"hi":47.2},{"x":254,"lo":36.5,"hi":44.9},{"x":277,"lo":34.2,"hi":42.6},{"x":310,"lo":32.6,"hi":40.2},{"x":344,"lo":31.4,"hi":39.5},{"x":370,"lo":30.7,"hi":39},{"x":400,"lo":31,"hi":38.8},{"x":450,"lo":31.5,"hi":39},{"x":500,"lo":31,"hi":38.6},{"x":550,"lo":31.5,"hi":39.5},{"x":590,"lo":33,"hi":41},{"x":620,"lo":32.8,"hi":43.5},{"x":650,"lo":32.5,"hi":45},{"x":667,"lo":31,"hi":48.8},{"x":690,"lo":30,"hi":53.5},{"x":707,"lo":28.6,"hi":54.6},{"x":724,"lo":25.6,"hi":52.8},{"x":740,"lo":17.9,"hi":45},{"x":757,"lo":6.3,"hi":33},{"x":767,"lo":0,"hi":26},{"x":774,"lo":0,"hi":21.6},{"x":800,"lo":0,"hi":7},{"x":824,"lo":0,"hi":0.5},{"x":850,"lo":0,"hi":0}
],
"note": [{"label":"lumbar enlargement","x":672,"y":80.7}],
"bracket": [{"x":599,"x2":749,"y":75.2,"y2":75.2},{"x":599,"x2":599,"y":75.2,"y2":73},{"x":749,"x2":749,"y":75.2,"y2":73}]
},
"vconcat": [
{
"width": 850, "height": 467,
"layer": [
{
"data": {"name": "subjects"},
"mark": {"type": "line", "strokeWidth": 1.4, "opacity": 0.8, "clip": true},
"encoding": {
"x": {"field": "x", "type": "quantitative", "scale": {"domain": [0, 850], "nice": false, "zero": false},
 "axis": {"values": [0,29,63,95,125,154,182,211,251,290,328,367,408,454,500,547,595,643,697,754,814], "labels": false, "ticks": false, "domain": false, "grid": true, "gridColor": "#e4e4e4", "gridWidth": 1.2, "title": null}},
"y": {"field": "y", "type": "quantitative", "scale": {"domain": [0, 107.1], "nice": false},
 "axis": {"values": [0,20,40,60,80,100], "labelFontSize": 26, "labelColor": "#444", "labelPadding": 12, "ticks": false, "domain": false, "grid": true, "gridColor": "#e4e4e4", "gridWidth": 1.2,
 "title": "Cross-sectional area (CSA) [mm²]", "titleFont": "Roboto", "titleFontWeight": 300, "titleFontSize": 40, "titleColor": "#333", "titleX": -93, "titleY": 466, "titleAngle": -90, "titleAlign": "center", "titleBaseline": "middle"}},
"color": {"field": "s", "type": "nominal", "legend": null,
 "scale": {"range": ["#5cd6d6","#7fd4d8","#e05050","#3aa03a","#2030d0","#d040c0","#e0d040","#222222","#9050e0","#3a8a3a","#c07030","#70c070","#1020a0","#e04060","#40b0b0","#b070f0","#a0a030","#4030a0","#8a5ad0","#50d0a0","#b03030","#607060","#f070d0","#5080f0","#e08020","#20a0a0","#c030a0","#6a3d9a","#d0c020","#1f78b4","#33a02c","#fb9a99","#111111","#9ad0f0"]}},
"strokeDash": {"datum": "CSA for each subject", "scale": {"range": [[1, 0]]},
 "legend": {"orient": "none", "legendX": 545, "legendY": 15, "title": null, "labelFontSize": 29, "labelLimit": 600, "labelColor": "#333", "symbolSize": 0, "symbolStrokeWidth": 0, "labelOffset": -29, "strokeColor": "#333", "fillColor": "white", "padding": 11}}
}
},
{"data": {"values": [{}]}, "mark": {"type": "rule", "strokeWidth": 11, "color": "black"}, "encoding": {"y": {"datum": 0}}},
{"data": {"name": "bracket"}, "mark": {"type": "rule", "strokeWidth": 2.5, "color": "#222"},
 "encoding": {"x": {"field": "x", "type": "quantitative"}, "x2": {"field": "x2"}, "y": {"field": "y", "type": "quantitative"}, "y2": {"field": "y2"}}},
{"data": {"name": "note"}, "mark": {"type": "text", "fontSize": 22, "color": "#444", "align": "center", "baseline": "middle"},
 "encoding": {"x": {"field": "x", "type": "quantitative"}, "y": {"field": "y", "type": "quantitative"}, "text": {"field": "label"}}}
]
},
{
"width": 850, "height": 451,
"layer": [
{
"data": {"name": "band"},
"mark": {"type": "area", "opacity": 1},
"encoding": {
"x": {"field": "x", "type": "quantitative", "scale": {"domain": [0, 850], "nice": false, "zero": false},
 "axis": {"values": [0,29,63,95,125,154,182,211,251,290,328,367,408,454,500,547,595,643,697,754,814],
 "labelExpr": "['Tip of C2','','C2-C3','C3-C4','C4-C5','C5-C6','C6-C7','C7-T1','T1-T2','T2-T3','T3-T4','T4-T5','T5-T6','T6-T7','T7-T8','T8-T9','T9-T10','T10-T11','T11-T12','T12-L1','L1-L2'][indexof([0,29,63,95,125,154,182,211,251,290,328,367,408,454,500,547,595,643,697,754,814], datum.value)]",
 "labelAngle": -90, "labelFontSize": 20, "labelColor": "#444", "labelPadding": 18, "labelOverlap": false, "labelFlush": false, "labelBound": false, "ticks": false, "domain": false, "grid": true, "gridColor": "#e4e4e4", "gridWidth": 1.2, "title": null}},
"y": {"field": "lo", "type": "quantitative", "scale": {"domain": [0, 104.9], "nice": false},
 "axis": {"values": [0,20,40,60,80], "labelFontSize": 26, "labelColor": "#444", "labelPadding": 12, "ticks": false, "domain": false, "grid": false, "title": null}},
"y2": {"field": "hi"},
"fill": {"datum": "Average CSA (+/- std)", "scale": {"range": ["#b4baf3"]},
 "legend": {"orient": "none", "legendX": 485, "legendY": 14, "zindex": 2, "title": null, "labelFontSize": 29, "labelExpr": "''", "labelColor": "transparent", "symbolType": "M-1,-0.55H1V-0.14H-1Z M-1,0.14H1V0.55H-1Z", "symbolSize": 1024, "symbolStrokeWidth": 0, "symbolOpacity": 1, "labelOffset": 12, "padding": 10, "rowPadding": 0}}
}
},
{
"data": {"name": "avg"},
"mark": {"type": "line", "strokeWidth": 2.6},
"encoding": {
"x": {"field": "x", "type": "quantitative"},
"y": {"field": "y", "type": "quantitative",
 "axis": {"orient": "left", "values": [17,34.4,51.9,69.3,86.7], "labels": false, "ticks": false, "domain": false, "grid": true, "gridColor": "#e4e4e4", "gridWidth": 1.2, "title": null}},
"color": {"field": "series", "type": "nominal",
 "scale": {"domain": ["Average CSA (+/- std)", "PAM50 CSA profile"], "range": ["#2236d0", "#e2281e"]},
 "legend": {"orient": "none", "legendX": 485, "legendY": 14, "zindex": 1, "title": null, "labelFontSize": 29, "labelLimit": 600, "labelColor": "#333", "symbolType": "stroke", "symbolSize": 1024, "symbolStrokeWidth": 5, "labelOffset": 12, "strokeColor": "#333", "fillColor": "white", "padding": 10, "rowPadding": 0}}
}
}
],
"resolve": {"axis": {"y": "independent"}}
}
],
"resolve": {"scale": {"color": "independent", "fill": "independent", "y": "independent", "x": "independent"}, "legend": {"color": "independent", "fill": "independent"}}
}
